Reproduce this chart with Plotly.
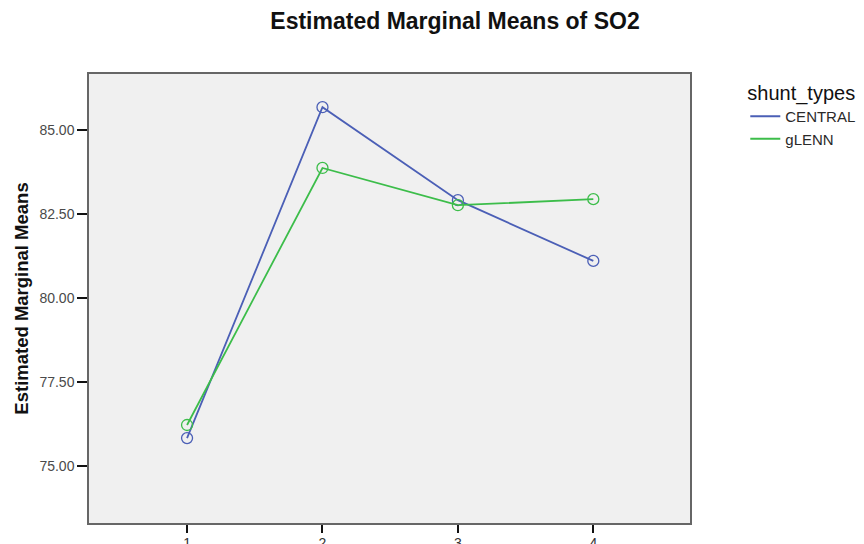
import plotly.graph_objects as go

categories = [1, 2, 3, 4]
central = [75.83, 85.69, 82.92, 81.11]
glenn = [76.22, 83.88, 82.77, 82.95]
series_names = ["CENTRAL", "gLENN"]
y_ticks = [75.0, 77.5, 80.0, 82.5, 85.0]
y_tick_labels = ["75.00", "77.50", "80.00", "82.50", "85.00"]

colors = ["#4b5fb6", "#3cbd4a"]

# page body has an 8px default margin, so the figure is 8px smaller than the window
W, H = 856, 536

fig = go.Figure()
for name, vals, col in zip(series_names, [central, glenn], colors):
    fig.add_trace(go.Scatter(
        x=categories, y=vals, mode="lines+markers", name=name,
        line=dict(color=col, width=1.8),
        marker=dict(symbol="circle-open", size=11, color=col, line=dict(width=1.3)),
        showlegend=False,
    ))
    fig.add_trace(go.Scatter(
        x=[None], y=[None], mode="lines", name=name,
        line=dict(color=col, width=1.8), showlegend=True,
    ))

fig.update_layout(
    width=W, height=H,
    margin=dict(l=81, r=174, t=66, b=21, autoexpand=False),
    paper_bgcolor="white", plot_bgcolor="#f0f0f0",
    font=dict(family="Liberation Sans, Arial", color="#333"),
    title=dict(text="<b>Estimated Marginal Means of SO2</b>", x=447 / W, xanchor="center", xref="container",
               y=1 - 13 / H, yanchor="middle", yref="container", font=dict(size=23, color="#111")),
    legend=dict(title=dict(text="shunt_types", font=dict(size=20, color="#111")),
                x=1.092, xanchor="left", y=1.0, yanchor="top",
                font=dict(size=15, color="#2a2a2a"), bgcolor="rgba(0,0,0,0)",
                tracegroupgap=0, itemwidth=30),
    xaxis=dict(range=[0.276, 4.714], tickvals=categories, ticktext=[str(c) for c in categories],
               showgrid=False, zeroline=False, ticks="outside", ticklen=8, tickwidth=2,
               tickcolor="#111", showline=True, linecolor="#666", linewidth=1.5, mirror=True,
               tickfont=dict(size=14, color="#333"), automargin=False, ticklabelstandoff=-2),
    yaxis=dict(range=[73.3, 86.68], tickvals=y_ticks, ticktext=y_tick_labels,
               showgrid=False, zeroline=False, ticks="outside", ticklen=10, tickwidth=2,
               tickcolor="#111", showline=True, linecolor="#666", linewidth=1.5, mirror=True,
               tickfont=dict(size=14, color="#4a4a4a"), automargin=False,
               title=dict(text="<b>Estimated Marginal Means</b>", font=dict(size=18.5, color="#111"),
                          standoff=6)),
)

fig.write_html("out.html")
